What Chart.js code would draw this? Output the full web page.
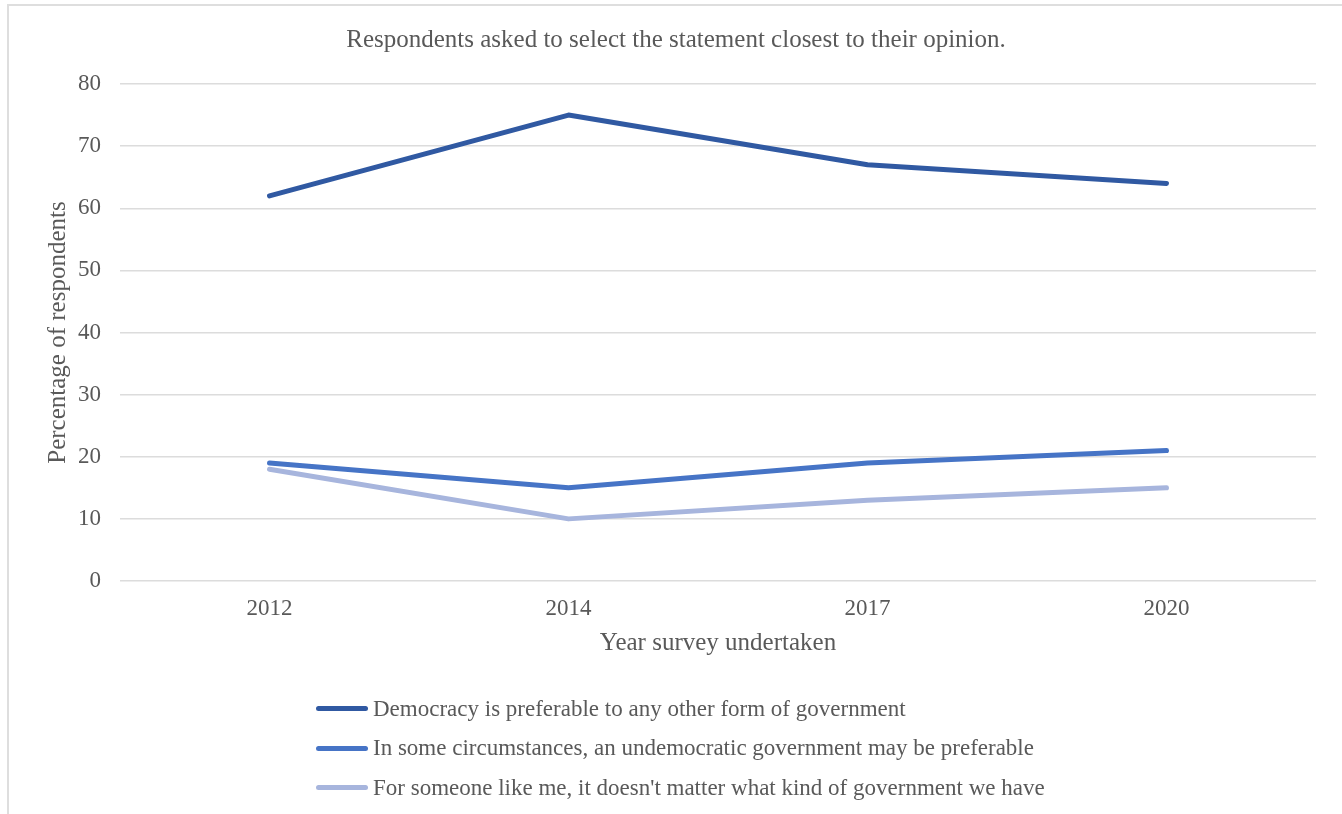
<!DOCTYPE html>
<html>
<head>
<meta charset="utf-8">
<script src="https://cdn.jsdelivr.net/npm/chart.js@4.4.1/dist/chart.umd.min.js"></script>
<style>
  html, body { margin: 0; padding: 0; background: #fff; overflow: hidden; }
  body { width: 1342px; height: 814px; position: relative; }
  .frame { position: absolute; left: 7px; top: 4px; width: 1400px; height: 900px; border: 2px solid #dedede; box-sizing: border-box; }
  .wrap { position: absolute; left: 0; top: 0; width: 1342px; height: 814px; }
  #legend { position: absolute; left: 316px; top: 689px; font-family: "Liberation Serif", "Times New Roman", serif; font-size: 23px; color: #595959; }
  #legend .item { display: flex; align-items: center; height: 39.5px; }
  #legend .swatch { width: 52px; height: 5px; border-radius: 3px; margin-right: 5px; }
</style>
</head>
<body>
<div class="frame"></div>
<div class="wrap"><canvas id="chart" width="1342" height="814"></canvas></div>
<div id="legend"></div>
<script>
// Data
const years = ["2012", "2014", "2017", "2020"];
const seriesNames = [
  "Democracy is preferable to any other form of government",
  "In some circumstances, an undemocratic government may be preferable",
  "For someone like me, it doesn't matter what kind of government we have"
];
const democracyPreferable = [62, 75, 67, 64];
const undemocraticPreferable = [19, 15, 19, 21];
const doesntMatter = [18, 10, 13, 15];
const yTicks = [0, 10, 20, 30, 40, 50, 60, 70, 80];

const colors = ["#3059a2", "#4674c6", "#a7b5dd"];
const textColor = "#595959";
const serif = "'Liberation Serif', 'Times New Roman', serif";

const seriesValues = [democracyPreferable, undemocraticPreferable, doesntMatter];

const ctx = document.getElementById("chart").getContext("2d");
const chart = new Chart(ctx, {
  type: "line",
  data: {
    labels: years,
    datasets: seriesValues.map((vals, i) => ({
      label: seriesNames[i],
      data: vals,
      borderColor: colors[i],
      backgroundColor: colors[i],
      borderWidth: 5,
      borderCapStyle: "round",
      borderJoinStyle: "round",
      pointRadius: 0,
      tension: 0,
      fill: false
    }))
  },
  options: {
    responsive: false,
    animation: false,
    layout: { padding: { left: 36, right: 26, top: 0, bottom: 0 } },
    plugins: {
      legend: { display: false },
      tooltip: { enabled: false },
      title: {
        display: true,
        text: "Respondents asked to select the statement closest to their opinion.",
        color: textColor,
        font: { family: serif, size: 25, weight: "normal" },
        padding: { top: 25, bottom: 29 }
      }
    },
    scales: {
      x: {
        offset: true,
        grid: { display: false, drawTicks: false },
        border: { display: false },
        ticks: { color: textColor, font: { family: serif, size: 23 }, padding: 14 },
        title: {
          display: true,
          text: "Year survey undertaken",
          color: textColor,
          font: { family: serif, size: 25 },
          padding: { top: 0, bottom: 156 }
        },
        afterFit: (scale) => { scale.height = 233; }
      },
      y: {
        min: yTicks[0],
        max: yTicks[yTicks.length - 1],
        afterBuildTicks: (scale) => { scale.ticks = yTicks.map(v => ({ value: v })); },
        grid: { color: "#dcdcdc", lineWidth: 1.5, drawTicks: false },
        border: { display: false },
        ticks: { color: textColor, font: { family: serif, size: 23 }, padding: 19 },
        title: {
          display: true,
          text: "Percentage of respondents",
          color: textColor,
          font: { family: serif, size: 25 },
          padding: { top: 7 }
        },
        afterFit: (scale) => { scale.width = 84; }
      }
    }
  }
});

// Legend built from the chart's datasets
const legendEl = document.getElementById("legend");
chart.data.datasets.forEach(ds => {
  const item = document.createElement("div");
  item.className = "item";
  const sw = document.createElement("span");
  sw.className = "swatch";
  sw.style.background = ds.borderColor;
  const label = document.createElement("span");
  label.textContent = ds.label;
  item.appendChild(sw);
  item.appendChild(label);
  legendEl.appendChild(item);
});
</script>
</body>
</html>
